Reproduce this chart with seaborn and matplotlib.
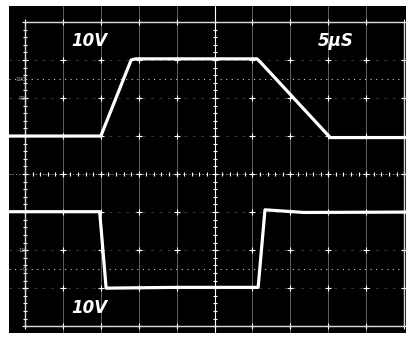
import numpy as np
import pandas as pd
import matplotlib
matplotlib.use('Agg')
import matplotlib.pyplot as plt
import seaborn as sns

# 채널 1 (위쪽 파형) : 시간(div), 전압(div)
t_ch1 = [-0.42, 2.0, 2.80, 2.92, 6.12, 6.25, 8.05, 10.05]
v_ch1 = [1.0, 1.0, 3.0, 3.03, 3.03, 2.90, 0.96, 0.96]

# 채널 2 (아래쪽 파형)
t_ch2 = [-0.42, 1.97, 2.14, 4.0, 6.15, 6.33, 7.36, 10.05]
v_ch2 = [-0.99, -0.99, -3.0, -2.98, -2.98, -0.94, -1.01, -1.0]

# 화면 글자
labels = ['10V', '5µS', '10V']
label_t = [1.69, 8.2, 1.69]
label_v = [3.5, 3.5, -3.53]

sns.set_style('dark')
plt.rcParams['font.family'] = ['DejaVu Sans']

fig = plt.figure(figsize=(4.09, 3.37), dpi=100)
fig.patch.set_facecolor('white')
ax = fig.add_axes([9 / 409, 4 / 337, 397 / 409, 327 / 337])
ax.set_facecolor('black')
for s in ax.spines.values():
    s.set_visible(False)

# 눈금 격자
grid_c = '#bbbbbb'
for x in range(1, 10):
    ax.axvline(x, color=grid_c, lw=0.6, alpha=0.6, zorder=1)
for y in range(-3, 4):
    ax.axhline(y, color=grid_c, lw=0.5, ls=(0, (4, 8)), alpha=0.4, zorder=1)
gx, gy = np.meshgrid(np.arange(0, 11), np.arange(-4, 5))
ax.plot(gx.ravel(), gy.ravel(), '+', color='white', ms=4, mew=0.8, zorder=2)

# 중심축 잔눈금
minor = np.arange(0, 10.01, 0.2)
ax.plot(minor, np.zeros_like(minor), '|', color='white', ms=2.5, mew=0.8, zorder=2)
ax.axhline(0, color='#cccccc', lw=0.6, ls=(0, (1, 3)), zorder=1)
minor_v = np.arange(-4, 4.01, 0.2)
ax.plot(np.full_like(minor_v, 5), minor_v, '_', color='white', ms=2.5, mew=0.8, zorder=2)
ax.plot(np.full_like(minor_v, 0), minor_v, '_', color='white', ms=2.5, mew=0.8, zorder=2)
ax.axvline(5, color='white', lw=0.8, zorder=2)

# 0%, 100% 점선
for y in (2.5, -2.5):
    ax.axhline(y, color='#cccccc', lw=0.8, ls=(0, (1, 4)), zorder=1)

# 테두리
ax.plot([0, 10, 10, 0, 0], [-4, -4, 4, 4, -4], color='#dddddd', lw=1.0, zorder=2)

# 작은 눈금 숫자
for txt, y in [('100', 2.5), ('90', 2.0), ('10', -2.0), ('0', -2.5)]:
    ax.text(0.02, y, txt, color='#aaaaaa', fontsize=4, ha='right', va='center')

# 파형
df1 = pd.DataFrame({'t': t_ch1, 'v': v_ch1})
df2 = pd.DataFrame({'t': t_ch2, 'v': v_ch2})
sns.lineplot(data=df1, x='t', y='v', ax=ax, color='white', lw=2.3, sort=False, zorder=5)
sns.lineplot(data=df2, x='t', y='v', ax=ax, color='white', lw=2.3, sort=False, zorder=5)

for txt, t, v in zip(labels, label_t, label_v):
    ax.text(t, v, txt, color='white', fontsize=12, fontweight='bold', fontstyle='italic',
            ha='center', va='center', zorder=6)

ax.set_xlim(-0.422, 10.05)
ax.set_ylim(-4.18, 4.42)
ax.set_xticks([])
ax.set_yticks([])
ax.set_xlabel('')
ax.set_ylabel('')

fig.savefig('out.png', dpi=100, facecolor='white')
